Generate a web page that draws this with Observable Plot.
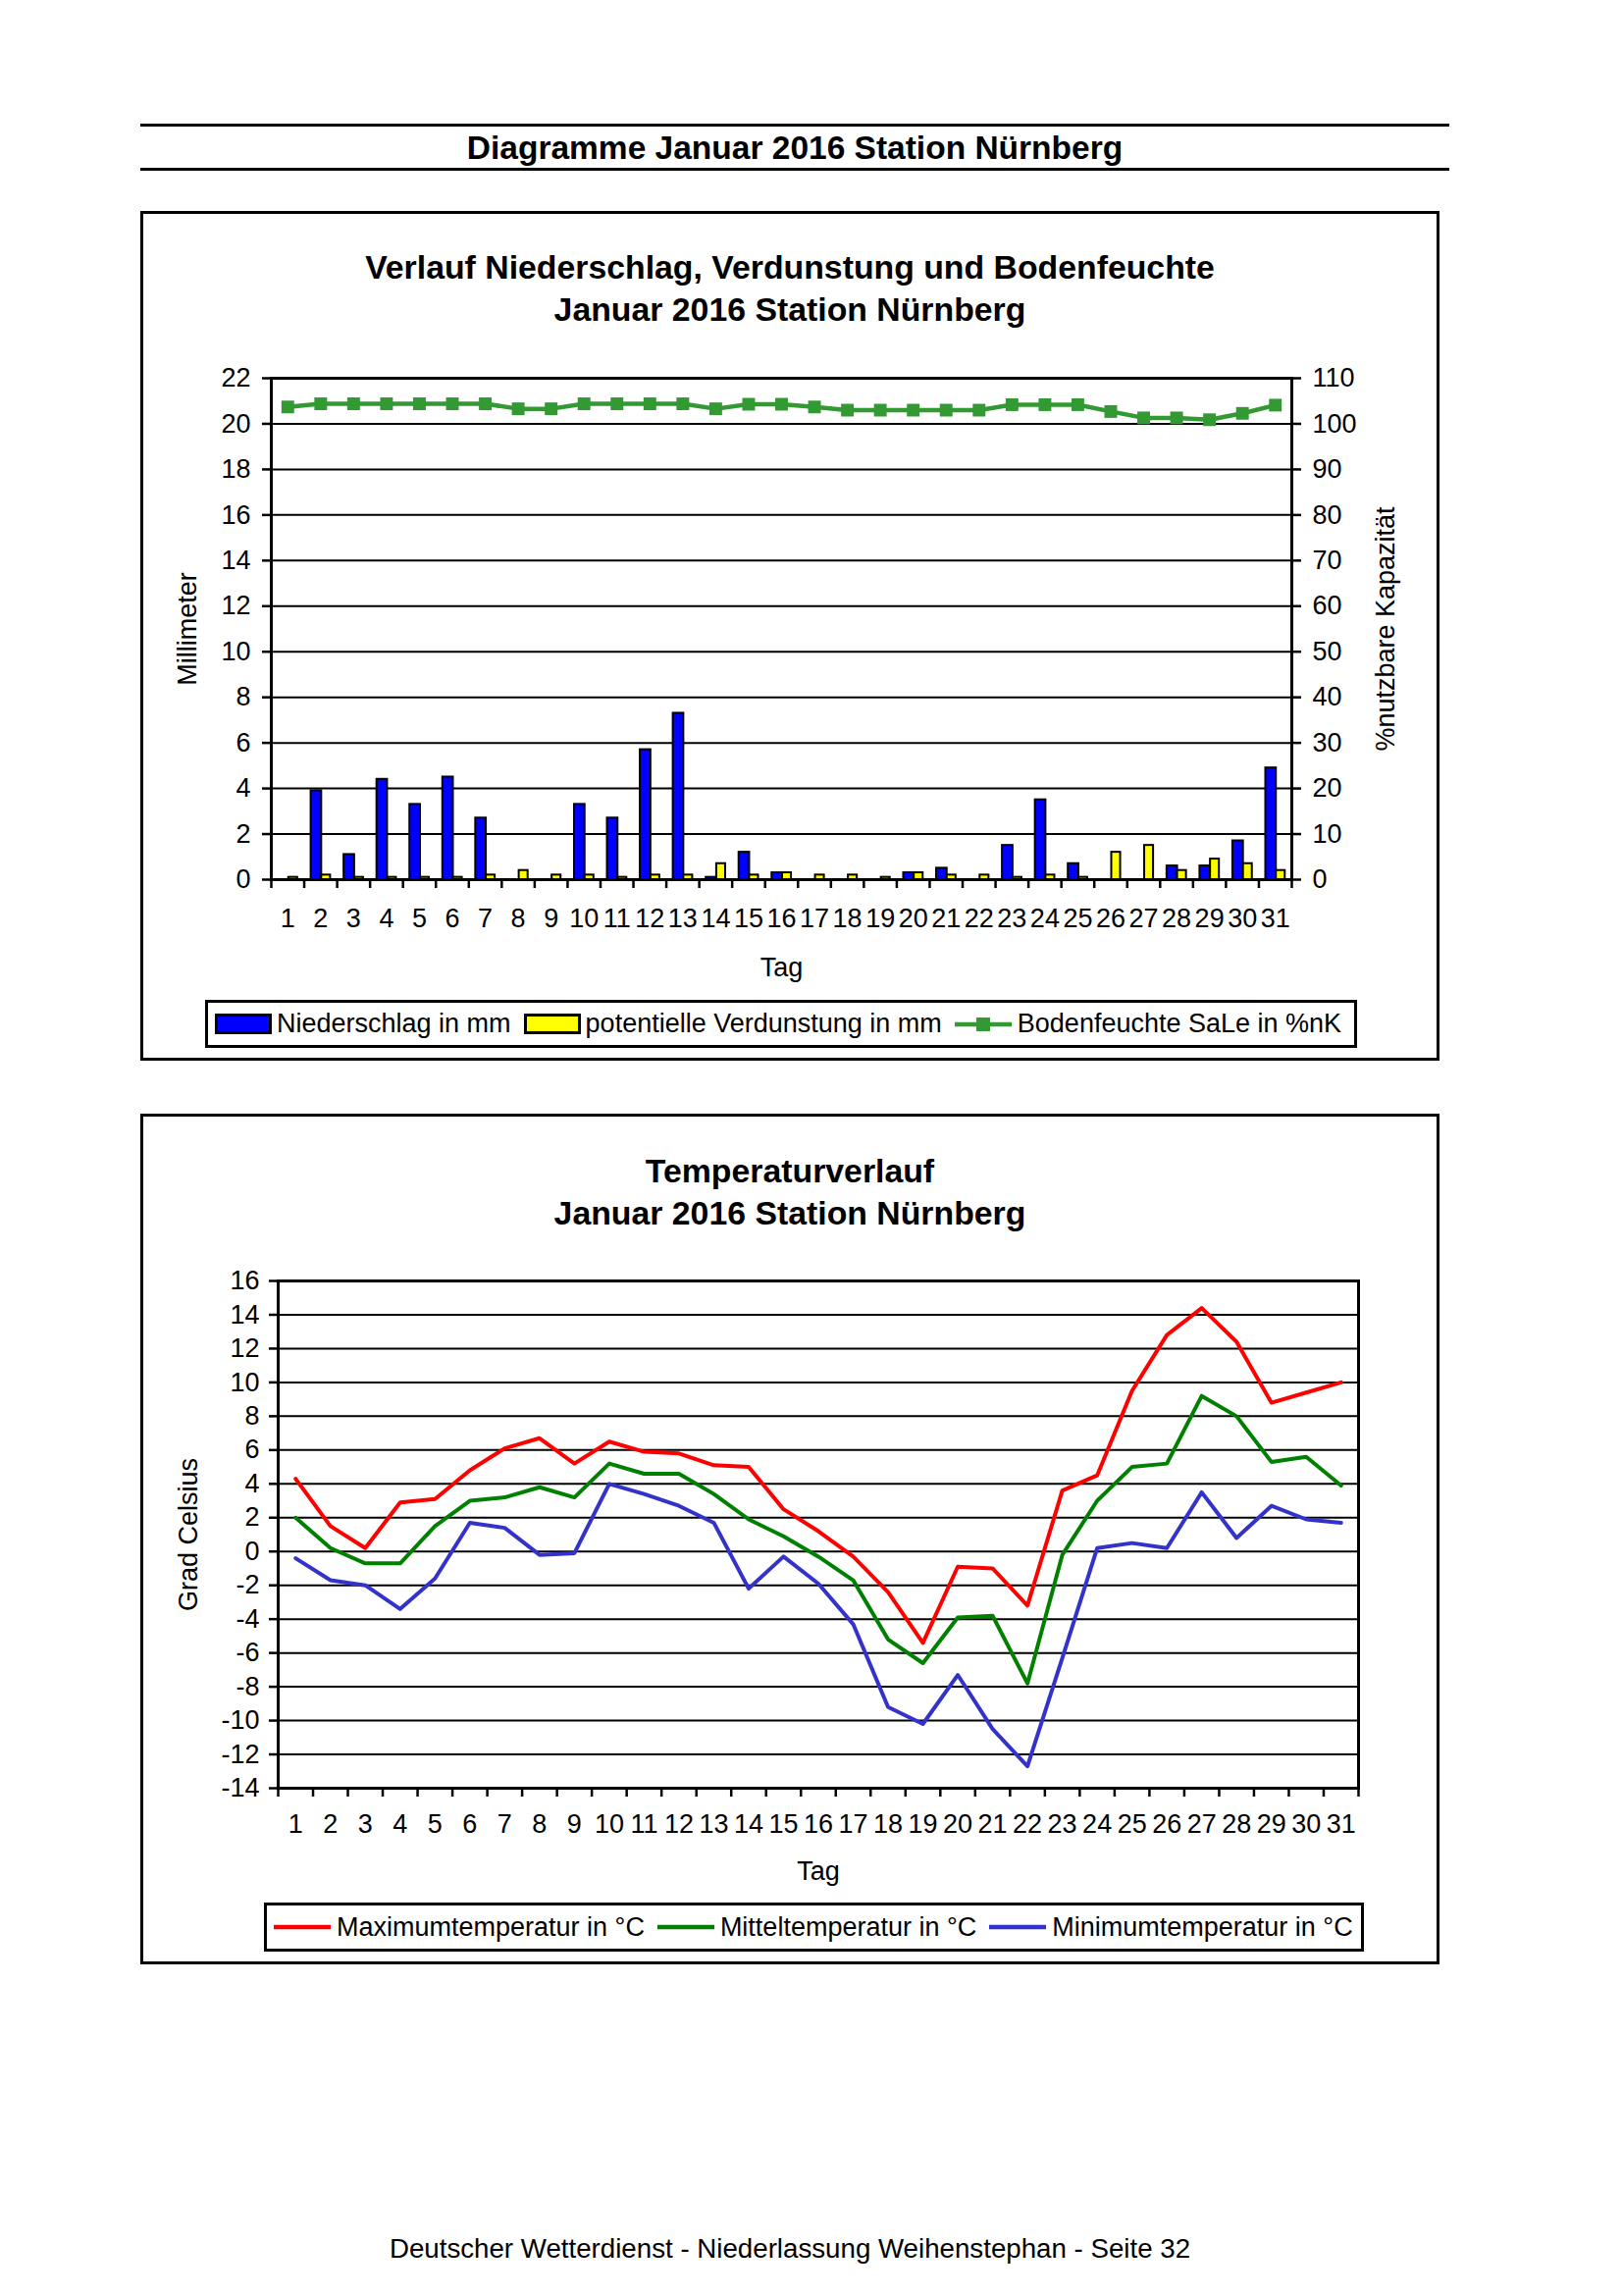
<!DOCTYPE html>
<html>
<head>
<meta charset="utf-8">
<script src="https://cdn.jsdelivr.net/npm/d3@7"></script>
<script src="https://cdn.jsdelivr.net/npm/@observablehq/plot@0.6"></script>
<style>
  body { margin: 0; background: #fff; font-family: "Liberation Sans", Arial, sans-serif; color: #000; }
  #page { position: relative; width: 1653px; height: 2340px; overflow: hidden; background: #fff; }
  .hline { position: absolute; left: 143px; width: 1334px; height: 3px; background: #000; }
  .pagetitle { position: absolute; left: 143px; width: 1334px; top: 131px; text-align: center; font-weight: bold; font-size: 33.5px; line-height: 40px; }
  .box { position: absolute; left: 143px; width: 1324px; border: 3px solid #000; box-sizing: border-box; }
  .ctitle { position: absolute; left: 143px; width: 1324px; text-align: center; font-weight: bold; font-size: 33.8px; line-height: 43px; }
  .chart { position: absolute; left: 143px; }
  .chart svg { overflow: visible; }
  .legend { position: absolute; border: 3px solid #000; box-sizing: border-box; display: flex; align-items: center; font-size: 27px; white-space: nowrap; padding-left: 7px; background: #fff; }
  .item { display: flex; align-items: center; margin-right: 13px; }
  .item span.sw { display: inline-block; width: 58px; height: 21px; border: 3px solid #000; box-sizing: border-box; margin-right: 5px; }
  .item svg { margin-right: 6px; }
  .footer { position: absolute; left: 143px; width: 1324px; top: 2276px; text-align: center; font-size: 27.7px; }
</style>
</head>
<body>
<div id="page">
  <div class="hline" style="top:126px"></div>
  <div class="pagetitle">Diagramme Januar 2016 Station Nürnberg</div>
  <div class="hline" style="top:171px"></div>

  <div class="box" style="top:215px;height:866px"></div>
  <div class="ctitle" style="top:251px">Verlauf Niederschlag, Verdunstung und Bodenfeuchte<br>Januar 2016 Station Nürnberg</div>
  <div class="chart" id="chart1" style="top:338px"></div>
  <div class="legend" id="legend1" style="left:209px;top:1019px;width:1174px;height:49px"></div>

  <div class="box" style="top:1135px;height:867px"></div>
  <div class="ctitle" style="top:1172px">Temperaturverlauf<br>Januar 2016 Station Nürnberg</div>
  <div class="chart" id="chart2" style="top:1270px"></div>
  <div class="legend" id="legend2" style="left:269px;top:1939px;width:1121px;height:50px"></div>

  <div class="footer">Deutscher Wetterdienst - Niederlassung Weihenstephan - Seite 32</div>
</div>
<script>
// ---------- data ----------
const days = [1,2,3,4,5,6,7,8,9,10,11,12,13,14,15,16,17,18,19,20,21,22,23,24,25,26,27,28,29,30,31];
const niederschlag = [0.0,3.9,1.1,4.4,3.3,4.5,2.7,0.0,0.0,3.3,2.7,5.7,7.3,0.1,1.2,0.3,0.0,0.0,0.0,0.3,0.5,0.0,1.5,3.5,0.7,0.0,0.0,0.6,0.6,1.7,4.9];
const verdunstung = [0.1,0.2,0.1,0.1,0.1,0.1,0.2,0.4,0.2,0.2,0.1,0.2,0.2,0.7,0.2,0.3,0.2,0.2,0.1,0.3,0.2,0.2,0.1,0.2,0.1,1.2,1.5,0.4,0.9,0.7,0.4];
const bodenfeuchte = [103.7,104.4,104.4,104.4,104.4,104.4,104.4,103.3,103.3,104.4,104.4,104.4,104.4,103.3,104.3,104.3,103.7,103.0,103.0,103.0,103.0,103.0,104.2,104.2,104.2,102.7,101.3,101.3,100.9,102.3,104.1];
const tMax = [4.3,1.5,0.2,2.9,3.1,4.8,6.1,6.7,5.2,6.5,5.9,5.8,5.1,5.0,2.5,1.2,-0.3,-2.4,-5.4,-0.9,-1.0,-3.2,3.6,4.5,9.5,12.8,14.4,12.4,8.8,9.4,10.0];
const tMittel = [2.0,0.2,-0.7,-0.7,1.5,3.0,3.2,3.8,3.2,5.2,4.6,4.6,3.4,1.9,0.9,-0.3,-1.7,-5.2,-6.6,-3.9,-3.8,-7.8,-0.2,3.0,5.0,5.2,9.2,8.0,5.3,5.6,3.9];
const tMin = [-0.4,-1.7,-2.0,-3.4,-1.6,1.7,1.4,-0.2,-0.1,4.0,3.4,2.7,1.7,-2.2,-0.3,-1.9,-4.3,-9.2,-10.2,-7.3,-10.5,-12.7,-6.3,0.2,0.5,0.2,3.5,0.8,2.7,1.9,1.7];
const mmTicks = [0,2,4,6,8,10,12,14,16,18,20,22];
const pctTicks = [0,10,20,30,40,50,60,70,80,90,100,110];
const tempTicks = [-14,-12,-10,-8,-6,-4,-2,0,2,4,6,8,10,12,14,16];

const colN = "#0000ff", colV = "#ffff00", colB = "#339933";
const colMax = "#ff0000", colMit = "#008000", colMin = "#3333cc";

const rows = days.map((d, i) => ({day: d, n: niederschlag[i], v: verdunstung[i], b: bodenfeuchte[i],
  tmax: tMax[i], tmit: tMittel[i], tmin: tMin[i]}));
const boundaries = [0].concat(days).map(d => d + 0.5);
const font = {fontFamily: "'Liberation Sans', Arial, sans-serif", fontSize: "27px", color: "#000", background: "transparent", overflow: "visible"};

// ---------- chart 1 ----------
const c1 = Plot.plot({
  width: 1324, height: 673,
  marginLeft: 133, marginRight: 151, marginTop: 47, marginBottom: 115,
  style: font,
  x: {type: "linear", domain: [0.5, 31.5]},
  y: {domain: [0, 22]},
  marks: [
    Plot.gridY(mmTicks, {stroke: "#000", strokeOpacity: 1, strokeWidth: 2}),
    Plot.rectY(rows.filter(d => d.n > 0), {x1: d => d.day - 0.29, x2: d => d.day + 0.03, y: "n", fill: colN, stroke: "#000", strokeWidth: 2}),
    Plot.rectY(rows.filter(d => d.v > 0), {x1: d => d.day + 0.03, x2: d => d.day + 0.30, y: "v", fill: colV, stroke: "#000", strokeWidth: 2}),
    Plot.line(rows, {x: "day", y: d => d.b / 5, stroke: colB, strokeWidth: 4.5}),
    Plot.dot(rows, {x: "day", y: d => d.b / 5, symbol: "square", r: 7.3, fill: colB, stroke: "none"}),
    Plot.frame({stroke: "#000", strokeWidth: 3}),
    Plot.axisY(mmTicks, {anchor: "left", tickSize: 9, tickPadding: 12, strokeWidth: 2.5, tickFormat: d => String(d),
      label: "Millimeter", labelAnchor: "center", labelArrow: "none", labelOffset: 96}),
    Plot.axisY(mmTicks, {anchor: "right", tickSize: 9, tickPadding: 12, strokeWidth: 2.5,
      tickFormat: d => String(pctTicks[mmTicks.indexOf(d)]),
      label: "%nutzbare Kapazität", labelAnchor: "center", labelArrow: "none", labelOffset: 104}),
    Plot.axisX(boundaries, {tickSize: 9, strokeWidth: 2.5, tickFormat: () => "", label: null}),
    Plot.axisX(days, {tickSize: 0, tickPadding: 29, tickFormat: d => String(d),
      label: "Tag", labelAnchor: "center", labelArrow: "none", labelOffset: 98})
  ]
});
document.getElementById("chart1").appendChild(c1);

// ---------- chart 2 ----------
const c2 = Plot.plot({
  width: 1324, height: 662,
  marginLeft: 140, marginRight: 83, marginTop: 35, marginBottom: 110,
  style: font,
  x: {type: "linear", domain: [0.5, 31.5]},
  y: {domain: [-14, 16]},
  marks: [
    Plot.gridY(tempTicks, {stroke: "#000", strokeOpacity: 1, strokeWidth: 2}),
    Plot.line(rows, {x: "day", y: "tmax", stroke: colMax, strokeWidth: 4}),
    Plot.line(rows, {x: "day", y: "tmit", stroke: colMit, strokeWidth: 4}),
    Plot.line(rows, {x: "day", y: "tmin", stroke: colMin, strokeWidth: 4}),
    Plot.frame({stroke: "#000", strokeWidth: 3}),
    Plot.axisY(tempTicks, {anchor: "left", tickSize: 9, tickPadding: 10, strokeWidth: 2.5, tickFormat: d => String(d),
      label: "Grad Celsius", labelAnchor: "center", labelArrow: "none", labelOffset: 102}),
    Plot.axisX(boundaries, {tickSize: 9, strokeWidth: 2.5, tickFormat: () => "", label: null}),
    Plot.axisX(days, {tickSize: 0, tickPadding: 26, tickFormat: d => String(d),
      label: "Tag", labelAnchor: "center", labelArrow: "none", labelOffset: 93})
  ]
});
document.getElementById("chart2").appendChild(c2);

// ---------- legends ----------
function barItem(color, text) {
  return `<div class="item"><span class="sw" style="background:${color}"></span>${text}</div>`;
}
function lineItem(color, text, marker) {
  const sq = marker ? `<rect x="22" y="3" width="14" height="14" fill="${color}"/>` : "";
  return `<div class="item"><svg width="58" height="20"><line x1="0" y1="10" x2="58" y2="10" stroke="${color}" stroke-width="4.5"/>${sq}</svg>${text}</div>`;
}
document.getElementById("legend1").innerHTML =
  barItem(colN, "Niederschlag in mm") +
  barItem(colV, "potentielle Verdunstung in mm") +
  lineItem(colB, "Bodenfeuchte SaLe in %nK", true);
document.getElementById("legend2").innerHTML =
  lineItem(colMax, "Maximumtemperatur in °C", false) +
  lineItem(colMit, "Mitteltemperatur in °C", false) +
  lineItem(colMin, "Minimumtemperatur in °C", false);
</script>
</body>
</html>
